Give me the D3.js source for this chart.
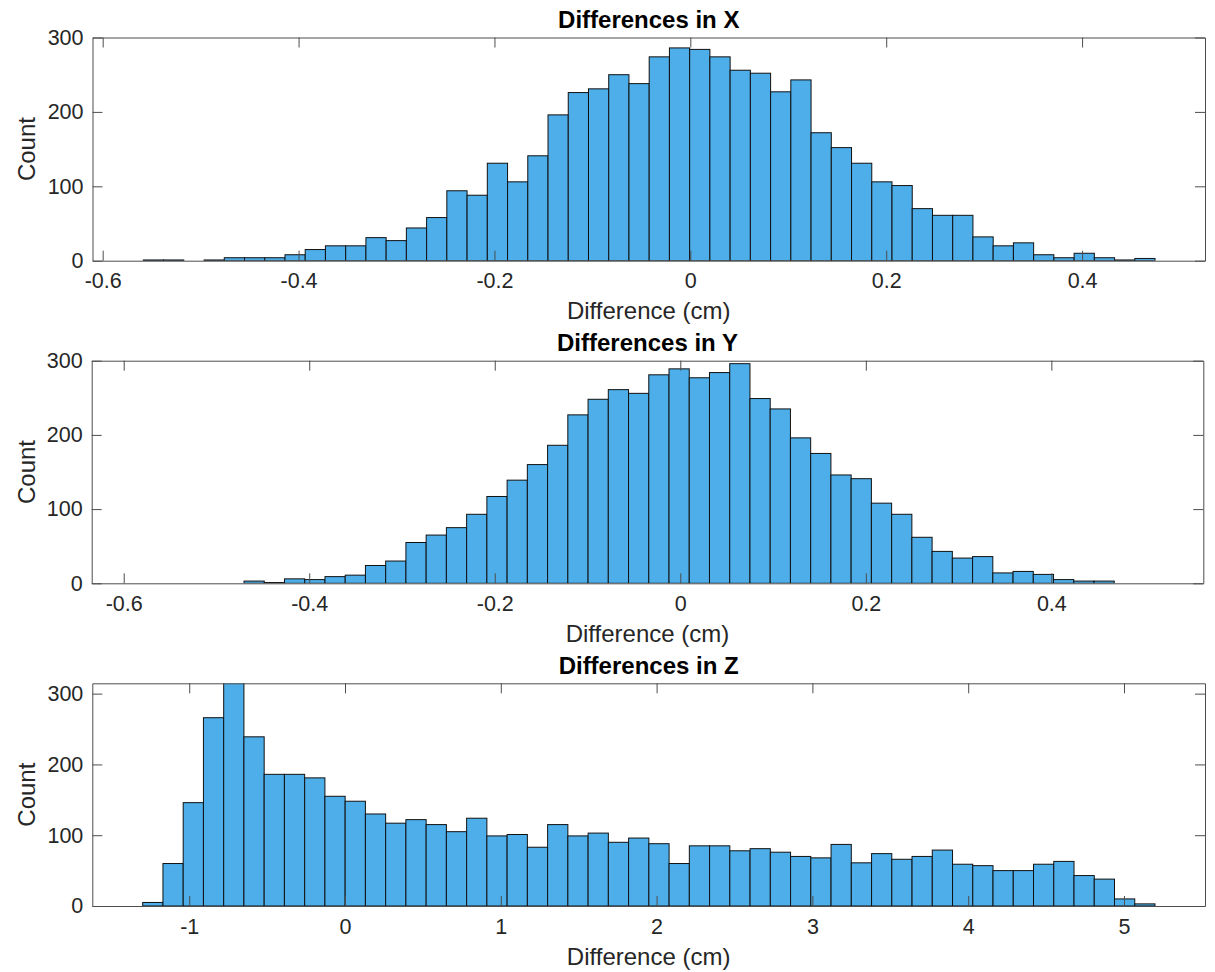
<!DOCTYPE html>
<html>
<head>
<meta charset="utf-8">
<script src="https://cdn.jsdelivr.net/npm/d3@7"></script>
<style>
  body { margin: 0; background: #fff; }
  svg { font-family: "Liberation Sans", Arial, sans-serif; }
  .tick text { fill: #262626; font-size: 21.5px; }
  .domain, .tick line { stroke: #4d4d4d; }
</style>
</head>
<body>
<div id="chart"></div>
<script>
// counts per bin
const countsX = [1, 1, 0, 1, 4, 4, 4, 8, 15, 20, 20, 31, 27, 44, 58, 94, 88, 131, 106, 141,
    196, 226, 231, 250, 238, 274, 286, 284, 274, 256, 252, 227, 243, 172, 152, 131, 106, 101, 70, 61,
    61, 32, 20, 24, 8, 4, 10, 4, 1, 3];
const countsY = [3, 1, 6, 5, 9, 11, 24, 30, 55, 65, 75, 93, 117, 139, 160, 186, 227, 248, 261, 256,
    281, 289, 277, 284, 296, 249, 235, 196, 175, 146, 141, 108, 93, 62, 43, 34, 36, 14, 16, 12,
    5, 3, 3];
const countsZ = [5, 60, 146, 266, 330, 239, 186, 186, 181, 155, 148, 130, 117, 122, 115, 105, 124, 99, 101, 83,
    115, 99, 103, 90, 96, 88, 60, 85, 85, 78, 81, 76, 70, 68, 87, 61, 74, 66, 70, 79,
    59, 57, 50, 50, 59, 63, 43, 38, 10, 3];

// bin ranges (first edge, last edge) in cm
const rangeX = [-0.5585, 0.4745];
const rangeY = [-0.4703, 0.4678];
const rangeZ = [-1.2985, 5.199];

const ticksX = [-0.6, -0.4, -0.2, 0, 0.2, 0.4];
const ticksY = [-0.6, -0.4, -0.2, 0, 0.2, 0.4];
const ticksZ = [-1, 0, 1, 2, 3, 4, 5];
const countTicks = [0, 100, 200, 300];

const titles = ["Differences in X", "Differences in Y", "Differences in Z"];

const W = 1215, H = 972;
const svg = d3.select("#chart").append("svg")
    .attr("width", W)
    .attr("height", H);

function hist(i, counts, range, ticks, xDomain, yMax, box) {
    const g = svg.append("g");
    const n = counts.length;
    const step = (range[1] - range[0]) / n;

    const x = d3.scaleLinear().domain(xDomain).range([box.left, box.right]);
    const y = d3.scaleLinear().domain([0, yMax]).range([box.bottom, box.top]);

    const clipId = "clip" + i;
    g.append("clipPath").attr("id", clipId)
        .append("rect")
        .attr("x", box.left).attr("y", box.top)
        .attr("width", box.right - box.left)
        .attr("height", box.bottom - box.top);

    g.append("g")
        .attr("clip-path", `url(#${clipId})`)
        .selectAll("rect")
        .data(counts)
        .enter().append("rect")
        .attr("x", function(d, k) { return x(range[0] + k * step); })
        .attr("width", function(d, k) { return x(range[0] + (k + 1) * step) - x(range[0] + k * step); })
        .attr("y", function(d) { return y(d); })
        .attr("height", function(d) { return y(0) - y(d); })
        .attr("fill", "#4DAEEA")
        .attr("stroke", "#111")
        .attr("stroke-width", 1)
        .style("display", function(d) { return d > 0 ? null : "none"; });

    const fmt = function(d) { return String(+d.toFixed(2)); };

    g.append("g")
        .attr("transform", `translate(0,${box.bottom})`)
        .call(d3.axisBottom(x).tickValues(ticks).tickFormat(fmt)
            .tickSizeInner(-10).tickSizeOuter(0).tickPadding(12.5));
    g.append("g")
        .attr("transform", `translate(0,${box.top})`)
        .call(d3.axisTop(x).tickValues(ticks).tickFormat("")
            .tickSizeInner(-10).tickSizeOuter(0));
    g.append("g")
        .attr("transform", `translate(${box.left},0)`)
        .call(d3.axisLeft(y).tickValues(countTicks).tickFormat(d3.format("d"))
            .tickSizeInner(-10).tickSizeOuter(0).tickPadding(9));
    g.append("g")
        .attr("transform", `translate(${box.right},0)`)
        .call(d3.axisRight(y).tickValues(countTicks).tickFormat("")
            .tickSizeInner(-10).tickSizeOuter(0));

    g.selectAll(".domain").attr("stroke", "#4d4d4d");

    const cx = (box.left + box.right) / 2;
    g.append("text")
        .attr("x", cx).attr("y", box.top - 9.5)
        .attr("text-anchor", "middle")
        .attr("font-weight", "bold")
        .attr("font-size", 24)
        .attr("fill", "#000")
        .text(titles[i]);

    g.append("text")
        .attr("x", cx).attr("y", box.bottom + 58.5)
        .attr("text-anchor", "middle")
        .attr("font-size", 24)
        .attr("fill", "#262626")
        .text("Difference (cm)");

    g.append("text")
        .attr("transform", `translate(35,${(box.top + box.bottom) / 2}) rotate(-90)`)
        .attr("text-anchor", "middle")
        .attr("font-size", 24)
        .attr("fill", "#262626")
        .text("Count");
}

hist(0, countsX, rangeX, ticksX, [-0.6104, 0.5255], 300,
    { left: 92.5, right: 1205, top: 37.5, bottom: 260.7 });
hist(1, countsY, rangeY, ticksY, [-0.6345, 0.5638], 300,
    { left: 91.7, right: 1203.3, top: 360.7, bottom: 583.3 });
hist(2, countsZ, rangeZ, ticksZ, [-1.622, 5.52], 314.6,
    { left: 92.3, right: 1205, top: 683.3, bottom: 906 });
</script>
</body>
</html>
